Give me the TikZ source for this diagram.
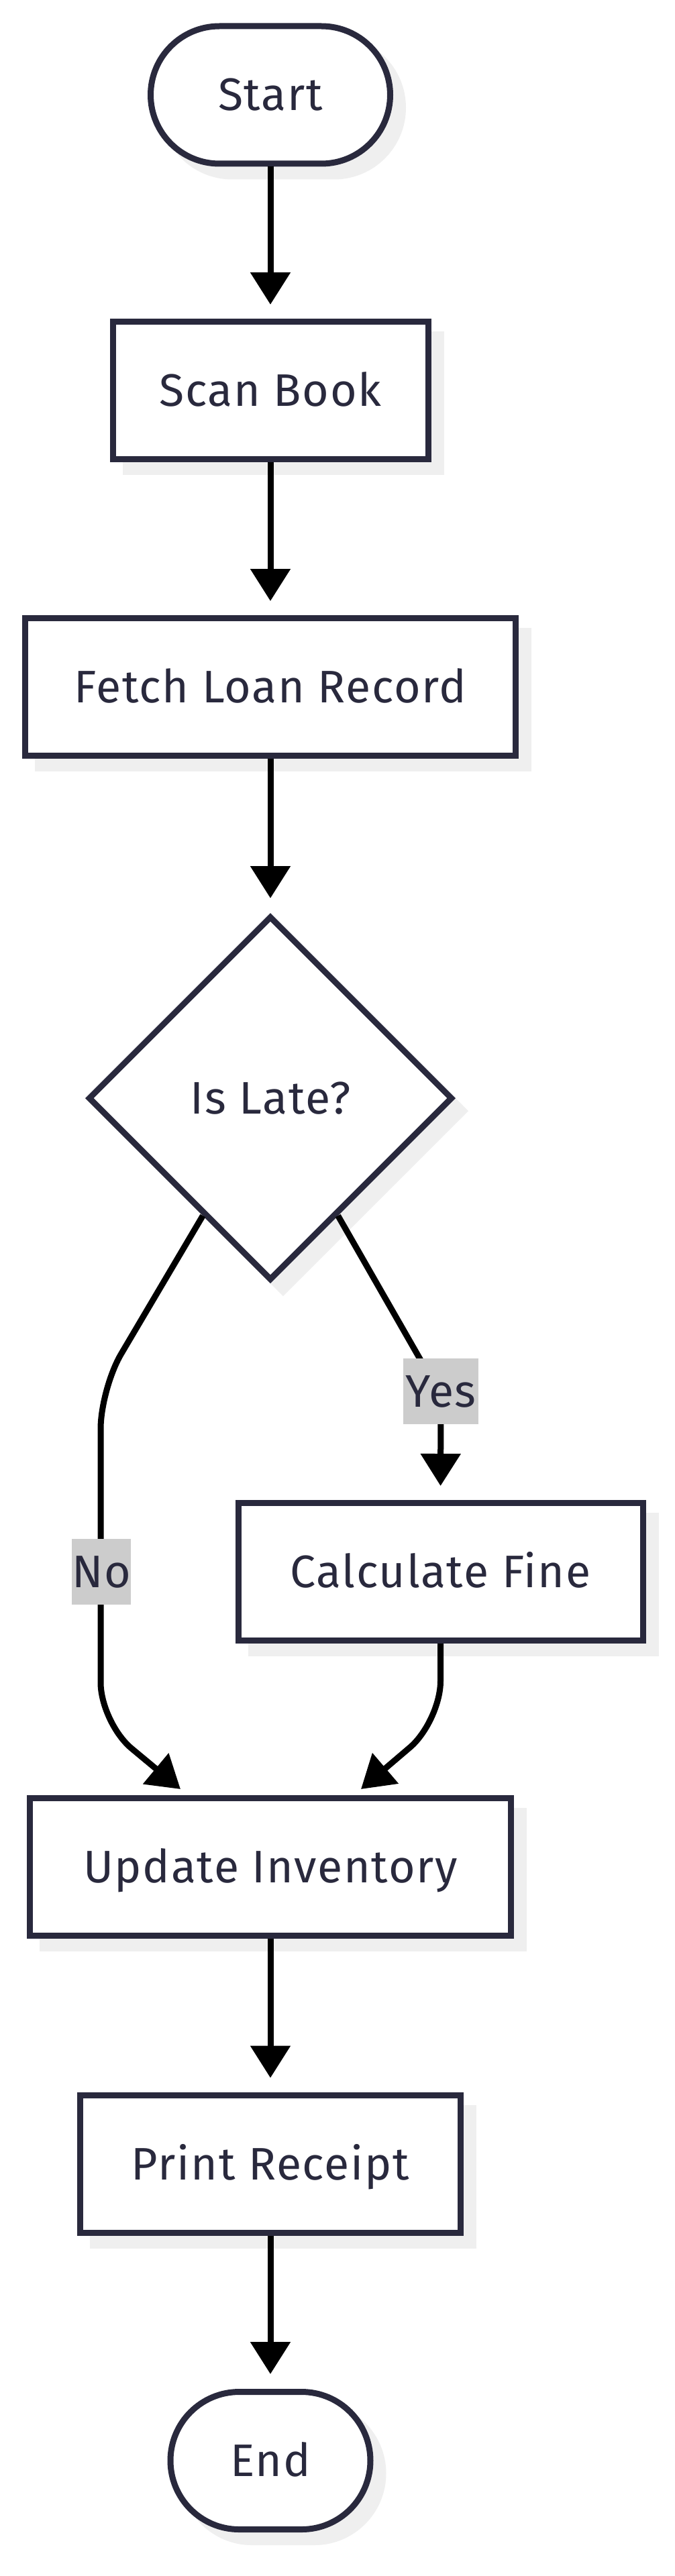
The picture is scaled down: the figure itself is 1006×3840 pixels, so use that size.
\documentclass[tikz,border=0pt]{standalone}
\usepackage{fontspec}
\setmainfont[LetterSpace=2.5]{Fira Sans}
\usetikzlibrary{shapes.geometric,arrows.meta,calc}
\definecolor{ink}{RGB}{41,41,61}
\definecolor{shade}{RGB}{239,239,239}
\definecolor{lblbg}{RGB}{204,204,204}
\begin{document}
\begin{tikzpicture}[x=1pt,y=1pt,
  txt/.style={text=ink, font=\fontsize{68}{80}\selectfont, text height=47pt, text depth=0pt},
  box/.style={txt, draw=ink, fill=white, line width=9pt, inner sep=0pt, minimum height=205pt,
    preaction={draw=shade, fill=shade, transform canvas={xshift=19pt,yshift=-19pt}}},
  term/.style={box, rounded corners=102.5pt},
  flow/.style={draw=black, line width=9pt, -{Triangle[length=48pt,width=58pt]}},
  lbl/.style={txt, fill=lblbg, inner sep=0pt, minimum height=98pt}
]
\useasboundingbox (0,0) rectangle (1006,-3840);
\fill[white] (0,0) rectangle (1006,-3840);

\node[term, minimum width=357pt] (start) at (403,-141.5) {Start};
\node[box, minimum width=470pt] (scan) at (403,-582) {Scan Book};
\node[box, minimum width=731pt] (fetch) at (403,-1024) {Fetch Loan Record};
\node[box, diamond, aspect=1, minimum width=543pt, minimum height=543pt] (late) at (403,-1637) {Is Late?};
\node[box, minimum width=603pt] (calc) at (656.5,-2343) {Calculate Fine};
\node[box, minimum width=717.5pt] (update) at (403,-2783) {Update Inventory};
\node[box, minimum width=567pt] (print) at (403,-3225.5) {Print Receipt};
\node[term, minimum width=298pt] (end) at (403,-3668) {End};

\coordinate (noS) at ($(late.west)!0.635!(late.south)$);
\coordinate (yesS) at ($(late.east)!0.635!(late.south)$);
\coordinate (noA) at (150,-2070);
\coordinate (noB) at (150,-2568);
\coordinate (noT) at (269,-2667);
\coordinate (yesA) at (657,-2080);
\coordinate (calcB) at (656.5,-2566);
\coordinate (calcT) at (538,-2667);

\draw[flow, shorten >=21pt] (start.south) -- (scan.north);
\draw[flow, shorten >=21pt] (scan.south) -- (fetch.north);
\draw[flow, shorten >=22pt] (fetch.south) -- (late.north);
\draw[flow, rounded corners=60pt] (noS) -- (noA) -- (noB) -- (noT);
\draw[flow, rounded corners=40pt, shorten >=21pt] (yesS) -- (yesA) -- (calc.north);
\draw[flow, rounded corners=60pt] (calc.south) -- (calcB) -- (calcT);
\draw[flow, shorten >=21pt] (update.south) -- (print.north);
\draw[flow, shorten >=22pt] (print.south) -- (end.north);

\node[lbl, minimum width=112pt] (yes) at (657,-2074) {Yes};
\node[lbl, minimum width=83pt] (no) at (151,-2343) {No};
\end{tikzpicture}
\end{document}
